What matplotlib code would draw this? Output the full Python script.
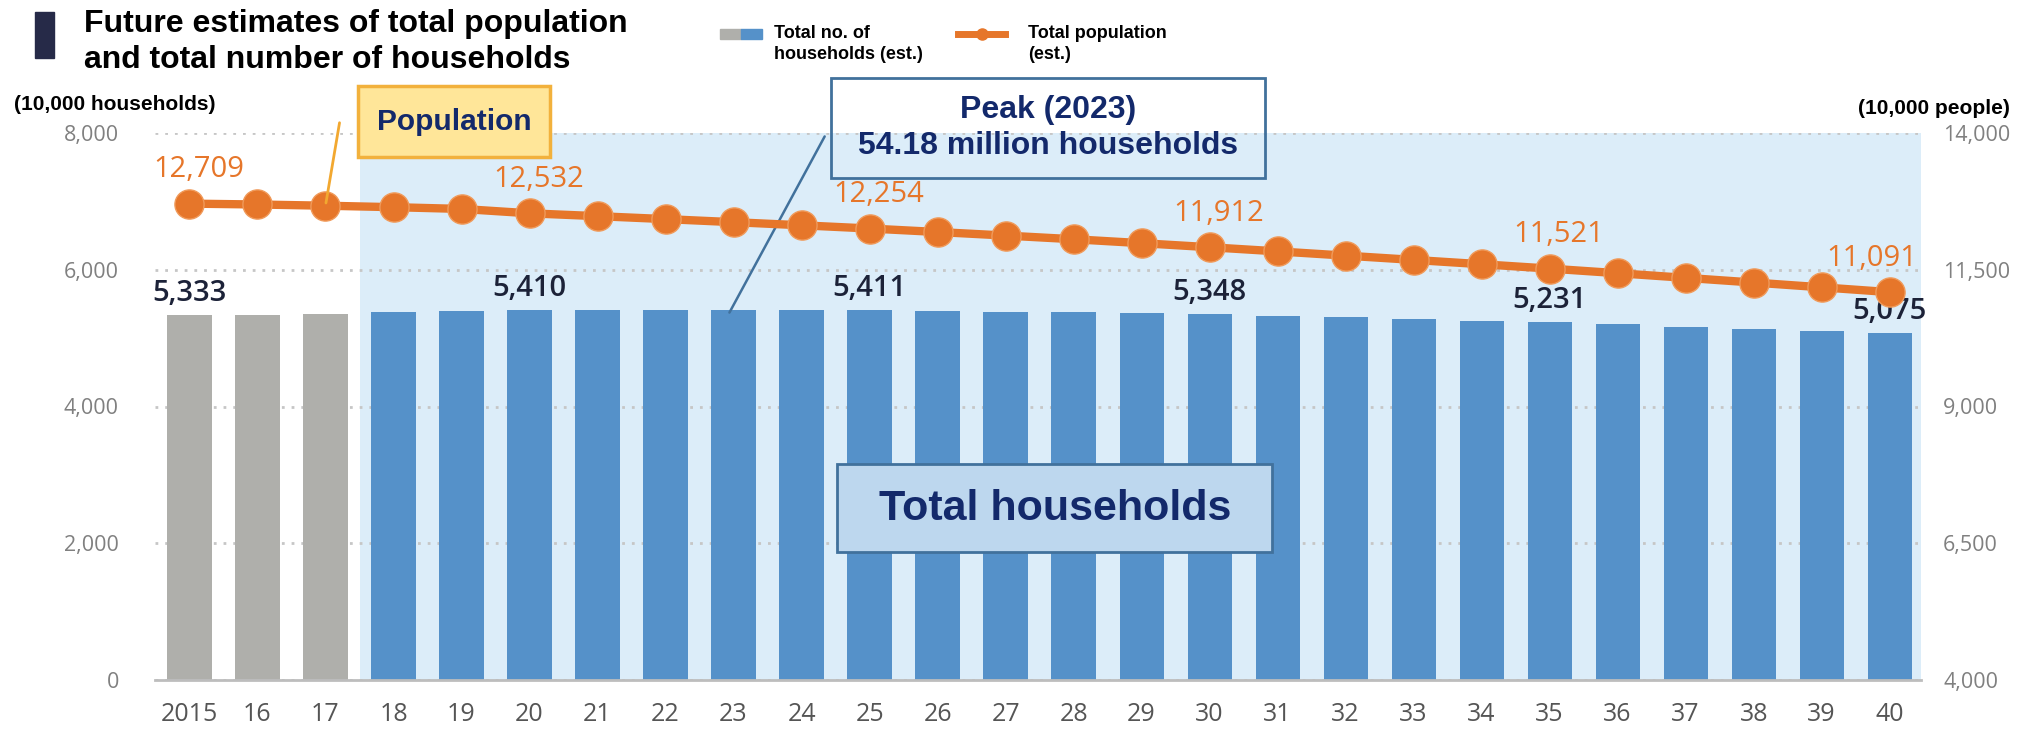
import matplotlib
matplotlib.use("Agg")
import matplotlib.pyplot as plt
from matplotlib.patches import Rectangle
from matplotlib.lines import Line2D

# --[data]---------------------------------------------------------------------
years = ['2015', '16', '17', '18', '19', '20', '21', '22', '23', '24', '25', '26', '27',
         '28', '29', '30', '31', '32', '33', '34', '35', '36', '37', '38', '39', '40']
households = [5333, 5340, 5350, 5385, 5400, 5410, 5414, 5417, 5418, 5416, 5411, 5400, 5388,
              5375, 5362, 5348, 5328, 5305, 5283, 5257, 5231, 5200, 5170, 5140, 5108, 5075]
population = [12709, 12693, 12671, 12644, 12612, 12532, 12480, 12426, 12370, 12313, 12254, 12190, 12125,
              12058, 11986, 11912, 11836, 11758, 11680, 11601, 11521, 11437, 11352, 11266, 11179, 11091]
n_actual = 3          # 2015-2017 are actual figures (gray)
label_idx = [0, 5, 10, 15, 20, 25]
left_ticks = [0, 2000, 4000, 6000, 8000]
right_ticks = [4000, 6500, 9000, 11500, 14000]

# --[colours / fonts]----------------------------------------------------------
GRAY = '#afafab'
BLUE = '#5591c9'
SHADE = '#dcedf9'
ORANGE = '#e6762a'
NAVY = '#13296b'
TICK_FONT = 'Open Sans'
ARIAL = 'Liberation Sans'

W, H = 2018, 733
fig = plt.figure(figsize=(W / 100, H / 100), dpi=100)


def fx(px):
    return px / W


def fy(py):
    return 1 - py / H


ax = fig.add_axes([fx(155), fy(680), fx(1921) - fx(155), fy(133) - fy(680)])
x = list(range(len(years)))

# --[bars]---------------------------------------------------------------------
ax.axvspan(n_actual - 0.5, 25.46, color=SHADE, zorder=0, lw=0)
colors = [GRAY] * n_actual + [BLUE] * (len(years) - n_actual)
ax.bar(x, households, width=0.65, color=colors, zorder=2)
ax.set_xlim(-0.507, 25.46)
ax.set_ylim(0, 8000)
ax.set_yticks(left_ticks)
ax.set_yticklabels(['{:,}'.format(v) for v in left_ticks])
ax.set_xticks(x)
ax.set_xticklabels(years)
ax.set_axisbelow(True)
ax.yaxis.grid(True, linestyle=(0, (1, 2.5)), color='#c6c6c6', lw=2)
for s in ['top', 'right', 'left']:
    ax.spines[s].set_visible(False)
ax.spines['bottom'].set_color('#bdbdbd')
ax.spines['bottom'].set_linewidth(2)
ax.tick_params(axis='y', length=0, pad=26, labelsize=15.5, labelcolor='#808080')
ax.tick_params(axis='x', length=0, pad=16, labelsize=18, labelcolor='#555555')
for lab in ax.get_xticklabels() + ax.get_yticklabels():
    lab.set_fontfamily(TICK_FONT)

for i in label_idx:
    ax.annotate('{:,}'.format(households[i]), (i, households[i]), xytext=(0, 5),
                textcoords='offset points', ha='center', va='bottom', fontsize=21,
                fontfamily=TICK_FONT, fontweight='semibold', color='#1c2238', zorder=5)

# --[population line]----------------------------------------------------------
ax2 = ax.twinx()
ax2.plot(x, population, color=ORANGE, lw=6, marker='o', markersize=21,
         markerfacecolor=ORANGE, markeredgecolor='#f09a5a', markeredgewidth=1, zorder=3)
ax2.set_ylim(4000, 14000)
ax2.set_yticks(right_ticks)
ax2.set_yticklabels(['{:,}'.format(v) for v in right_ticks])
for s in ax2.spines.values():
    s.set_visible(False)
ax2.tick_params(axis='y', length=0, pad=16, labelsize=15.5, labelcolor='#808080')
for lab in ax2.get_yticklabels():
    lab.set_fontfamily(TICK_FONT)

for i in label_idx:
    dx = -13 if i == label_idx[-1] else 6.5
    ax2.annotate('{:,}'.format(population[i]), (i, population[i]), xytext=(dx, 14),
                 textcoords='offset points', ha='center', va='bottom', fontsize=21,
                 fontfamily=TICK_FONT, color=ORANGE, zorder=5)

# --[axis unit labels]---------------------------------------------------------
fig.text(fx(14), fy(104), '(10,000 households)', fontsize=15, fontweight='bold',
         fontfamily=ARIAL, va='center', ha='left')
fig.text(fx(2010), fy(108), '(10,000 people)', fontsize=15, fontweight='bold',
         fontfamily=ARIAL, va='center', ha='right')

# --[title]--------------------------------------------------------------------
fig.patches.append(Rectangle((fx(35), fy(58)), fx(54) - fx(35), fy(12) - fy(58),
                             transform=fig.transFigure, color='#262a48'))
fig.text(fx(84), fy(24), 'Future estimates of total population', fontsize=23,
         fontweight='bold', fontfamily=ARIAL, va='center', ha='left')
fig.text(fx(84), fy(60), 'and total number of households', fontsize=23,
         fontweight='bold', fontfamily=ARIAL, va='center', ha='left')

# --[legend, drawn by hand so the keys sit on the first text line]------------
fig.patches.append(Rectangle((fx(720), fy(39)), fx(741) - fx(720), fy(29) - fy(39),
                             transform=fig.transFigure, color=GRAY))
fig.patches.append(Rectangle((fx(741), fy(39)), fx(762) - fx(741), fy(29) - fy(39),
                             transform=fig.transFigure, color=BLUE))
fig.lines.append(Line2D([fx(958), fx(1005)], [fy(34), fy(34)], transform=fig.transFigure,
                        color=ORANGE, lw=5))
fig.lines.append(Line2D([fx(982)], [fy(34)], transform=fig.transFigure, color=ORANGE,
                        marker='o', markersize=8))
fig.text(fx(774), fy(25), 'Total no. of\nhouseholds (est.)', fontsize=13, fontweight='bold',
         fontfamily=ARIAL, va='top', ha='left', linespacing=1.3)
fig.text(fx(1028), fy(25), 'Total population\n(est.)', fontsize=13, fontweight='bold',
         fontfamily=ARIAL, va='top', ha='left', linespacing=1.3)

# --[annotation boxes]---------------------------------------------------------
def box(x0, y0, x1, y1, face, edge, lw):
    fig.patches.append(Rectangle((fx(x0), fy(y1)), fx(x1) - fx(x0), fy(y0) - fy(y1),
                                 transform=fig.transFigure, facecolor=face,
                                 edgecolor=edge, lw=lw, zorder=6))


box(358, 86, 550, 157, '#ffe699', '#f2b13c', 2.5)
fig.text(fx(454), fy(122), 'Population', fontsize=21.5, fontweight='bold',
         fontfamily=ARIAL, color=NAVY, ha='center', va='center', zorder=7)
ax2.annotate('', xy=(n_actual - 1, population[n_actual - 1]), xycoords='data',
             xytext=(fx(340), fy(120)), textcoords='figure fraction',
             arrowprops=dict(arrowstyle='-', color='#f2a830', lw=2), zorder=6)

box(831, 78, 1265, 178, 'none', '#41719c', 2)
fig.text(fx(1048), fy(110), 'Peak (2023)', fontsize=23, fontweight='bold',
         fontfamily=ARIAL, color=NAVY, ha='center', va='center', zorder=7)
fig.text(fx(1048), fy(146), '54.18 million households', fontsize=23, fontweight='bold',
         fontfamily=ARIAL, color=NAVY, ha='center', va='center', zorder=7)
peak = households.index(max(households))
ax.annotate('', xy=(peak - 0.08, households[peak] - 80), xycoords='data',
            xytext=(fx(826), fy(134)), textcoords='figure fraction',
            arrowprops=dict(arrowstyle='-', color='#41719c', lw=1.8), zorder=6)

box(837, 464, 1272, 552, '#bdd7ee', '#41719c', 2)
fig.text(fx(1055), fy(509), 'Total households', fontsize=31, fontweight='bold',
         fontfamily=ARIAL, color=NAVY, ha='center', va='center', zorder=7)

fig.savefig('out.png', dpi=100)
